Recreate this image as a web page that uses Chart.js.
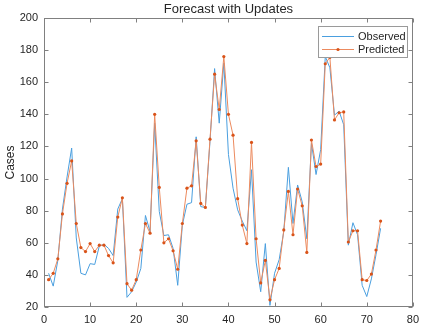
<!DOCTYPE html>
<html><head><meta charset="utf-8">
<script src="https://cdn.jsdelivr.net/npm/chart.js@4/dist/chart.umd.min.js"></script>
<style>html,body{margin:0;padding:0;background:#fff}#wrap{width:425px;height:326px}</style>
</head><body><div id="wrap"><canvas id="c" width="425" height="326"></canvas></div>
<script>
const titleText = 'Forecast with Updates';
const yTitle = 'Cases';
const seriesNames = ['Observed', 'Predicted'];
const days = [];
for (let i = 1; i <= 73; i++) days.push(i);
const observed = [41,33,49,81,101,119,63,41,40,47,46.5,58,59,56.5,52,81,87.5,26,29.5,35.5,
  44,77,67,134.5,79.5,64.5,65,56.5,33.5,71,84,85,126,82.5,82,123,168.5,134.5,172,115,
  94,80.5,73.5,67.5,105.5,48,29.5,59.5,21,41,49.5,67,107,72,96,85.5,62.5,122,102.5,118,
  176,169,139.5,142,133.5,58.5,72.5,65,33.5,26.5,37.5,52.5,69];
const predicted = [37,41,50,78,97,111,72,57,54.5,59.5,54.5,58.5,58.5,52,47.5,76,88,34.5,30.5,37,
  55.5,72,66,140,94.5,60,62.5,55,43.5,72,94,95.5,123.5,84.5,82,124.5,165,143,176,140,
  127,87.5,71,59.5,122.5,62.5,35,49,24.5,37,44,68,92,65,93.5,83,54,124,107.5,109,
  171.5,175.5,136.5,141,141.5,60.5,67.5,67.5,37,36.5,40.5,55.5,73.5];
const xTicks = [0,10,20,30,40,50,60,70,80];
const yTicks = [20,40,60,80,100,120,140,160,180,200];

const blue = '#4a9fdf';
const orangeLine = '#ec8a5e';
const orangeDot = '#d95319';
const textCol = '#262626';
const axisCol = '#808080';
const fontFam = '"Liberation Sans", Arial, Helvetica, sans-serif';

const framePlugin = {
  id: 'frame',
  afterDraw(chart) {
    const {ctx, chartArea: a, scales: {x, y}} = chart;
    ctx.save();
    ctx.strokeStyle = axisCol;
    ctx.lineWidth = 1;
    const L = Math.round(a.left) + 0.5, R = Math.round(a.right) - 0.5;
    const T = Math.round(a.top) + 0.5, B = Math.round(a.bottom) - 0.5;
    ctx.strokeRect(L, T, R - L, B - T);
    ctx.beginPath();
    xTicks.forEach(v => {
      const px = Math.round(x.getPixelForValue(v)) + 0.5;
      ctx.moveTo(px, B); ctx.lineTo(px, B - 4);
      ctx.moveTo(px, T); ctx.lineTo(px, T + 4);
    });
    yTicks.forEach(v => {
      const py = Math.round(y.getPixelForValue(v)) + 0.5;
      ctx.moveTo(L, py); ctx.lineTo(L + 4, py);
      ctx.moveTo(R, py); ctx.lineTo(R - 4, py);
    });
    ctx.stroke();
    // title
    ctx.fillStyle = textCol;
    ctx.font = '13px ' + fontFam;
    ctx.textAlign = 'center';
    ctx.textBaseline = 'middle';
    ctx.fillText(titleText, (a.left + a.right) / 2, 9);
    // legend
    const bx = 318.5, by = 26.5, bw = 89, bh = 31;
    ctx.fillStyle = '#fff';
    ctx.fillRect(bx, by, bw, bh);
    ctx.strokeStyle = '#9a9a9a';
    ctx.strokeRect(bx, by, bw, bh);
    ctx.lineWidth = 1;
    ctx.strokeStyle = blue;
    ctx.beginPath(); ctx.moveTo(322, 36.5); ctx.lineTo(354, 36.5); ctx.stroke();
    ctx.strokeStyle = orangeLine;
    ctx.beginPath(); ctx.moveTo(322, 49.5); ctx.lineTo(354, 49.5); ctx.stroke();
    ctx.fillStyle = orangeDot;
    ctx.beginPath(); ctx.arc(338, 49.5, 1.6, 0, Math.PI * 2); ctx.fill();
    ctx.fillStyle = textCol;
    ctx.font = '11px ' + fontFam;
    ctx.textAlign = 'left';
    ctx.fillText(seriesNames[0], 358, 37);
    ctx.fillText(seriesNames[1], 358, 50);
    ctx.restore();
  }
};

new Chart(document.getElementById('c'), {
  type: 'line',
  data: {
    datasets: [
      {
        label: seriesNames[0],
        data: days.map((d, i) => ({x: d, y: observed[i]})),
        borderColor: blue, borderWidth: 1, pointRadius: 0, tension: 0, order: 2
      },
      {
        label: seriesNames[1],
        data: days.map((d, i) => ({x: d, y: predicted[i]})),
        borderColor: orangeLine, borderWidth: 1, pointRadius: 1.6,
        pointBackgroundColor: orangeDot, pointBorderWidth: 0, pointStyle: 'circle', tension: 0, order: 1
      }
    ]
  },
  options: {
    responsive: false,
    animation: false,
    devicePixelRatio: 1,
    layout: {padding: {top: 18, right: 9, left: 0, bottom: 0}},
    plugins: {legend: {display: false}, title: {display: false}, tooltip: {enabled: false}},
    scales: {
      x: {
        type: 'linear', min: 0, max: 80,
        grid: {display: false, drawTicks: false}, border: {display: false},
        ticks: {stepSize: 10, color: textCol, font: {size: 11, family: fontFam}, padding: 6, maxRotation: 0},
        afterFit(s) { s.height = 19; }
      },
      y: {
        type: 'linear', min: 20, max: 200,
        grid: {display: false, drawTicks: false}, border: {display: false},
        ticks: {stepSize: 20, color: textCol, font: {size: 11, family: fontFam}, padding: 6},
        title: {display: true, text: yTitle, color: textCol, font: {size: 12, family: fontFam}, padding: {top: 3, bottom: 0}},
        afterFit(s) { s.width = 44; }
      }
    }
  },
  plugins: [framePlugin]
});
</script>
</body></html>
